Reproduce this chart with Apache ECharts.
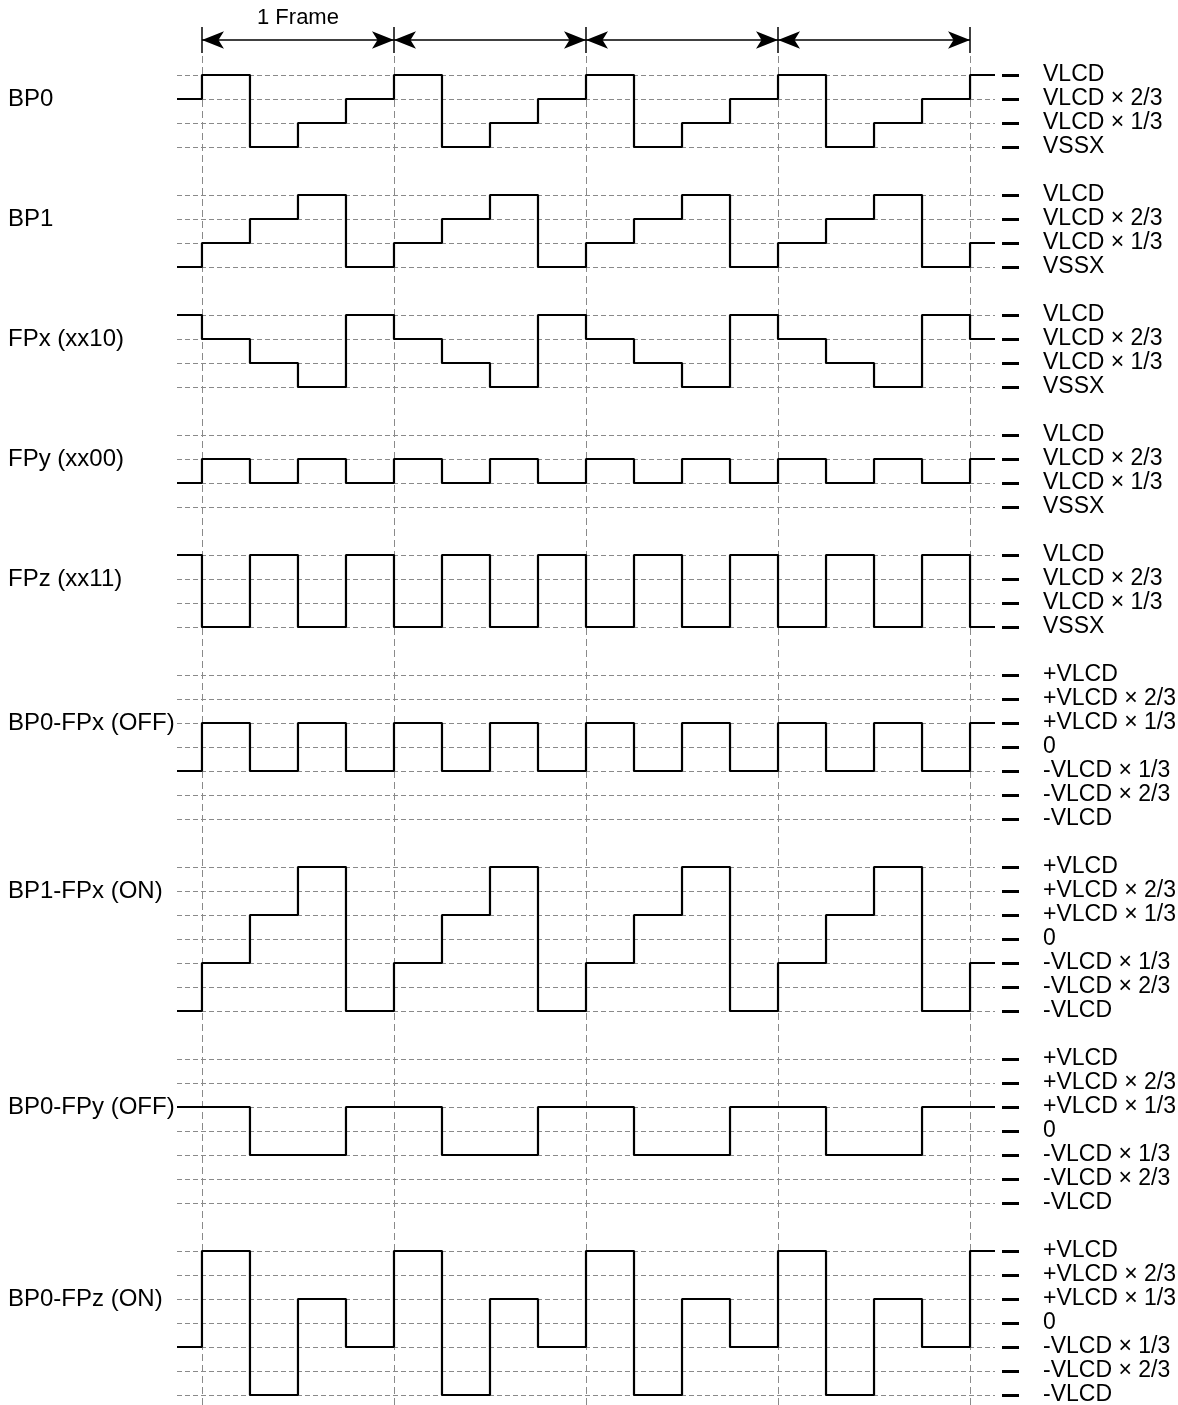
<!DOCTYPE html>
<html><head><meta charset="utf-8">
<script src="https://cdn.jsdelivr.net/npm/echarts@6/dist/echarts.min.js"></script>
<style>html,body{margin:0;padding:0;background:#fff}#c{width:1178px;height:1405px}</style>
</head><body><div id="c"></div>
<script>
// ---- data ----
const frameBounds = [0, 4, 8, 12, 16];          // phase index of frame boundaries
const frameLabel = '1 Frame';
const waveNames = ['BP0', 'BP1', 'FPx (xx10)', 'FPy (xx00)', 'FPz (xx11)',
  'BP0-FPx (OFF)', 'BP1-FPx (ON)', 'BP0-FPy (OFF)', 'BP0-FPz (ON)'];
// levels in units of VLCD/3 : [before, 16 phases ..., after]
const bp0    = [2, 3, 0, 1, 2, 3, 0, 1, 2, 3, 0, 1, 2, 3, 0, 1, 2, 3];
const bp1    = [0, 1, 2, 3, 0, 1, 2, 3, 0, 1, 2, 3, 0, 1, 2, 3, 0, 1];
const fpx    = [3, 2, 1, 0, 3, 2, 1, 0, 3, 2, 1, 0, 3, 2, 1, 0, 3, 2];
const fpy    = [1, 2, 1, 2, 1, 2, 1, 2, 1, 2, 1, 2, 1, 2, 1, 2, 1, 2];
const fpz    = [3, 0, 3, 0, 3, 0, 3, 0, 3, 0, 3, 0, 3, 0, 3, 0, 3, 0];
const bp0fpx = [-1, 1, -1, 1, -1, 1, -1, 1, -1, 1, -1, 1, -1, 1, -1, 1, -1, 1];
const bp1fpx = [-3, -1, 1, 3, -3, -1, 1, 3, -3, -1, 1, 3, -3, -1, 1, 3, -3, -1];
const bp0fpy = [1, 1, -1, -1, 1, 1, -1, -1, 1, 1, -1, -1, 1, 1, -1, -1, 1, 1];
const bp0fpz = [-1, 3, -3, 1, -1, 3, -3, 1, -1, 3, -3, 1, -1, 3, -3, 1, -1, 3];
const waves = [bp0, bp1, fpx, fpy, fpz, bp0fpx, bp1fpx, bp0fpy, bp0fpz];
const nameLevels = [2, 2, 2, 2, 2, 1, 2, 1, 1];
const unipolarLabels = {3: 'VLCD', 2: 'VLCD \u00d7 2/3', 1: 'VLCD \u00d7 1/3', 0: 'VSSX'};
const bipolarLabels = {3: '+VLCD', 2: '+VLCD \u00d7 2/3', 1: '+VLCD \u00d7 1/3', 0: '0',
  '-1': '-VLCD \u00d7 1/3', '-2': '-VLCD \u00d7 2/3', '-3': '-VLCD'};

// ---- layout ----
const XMIN = -0.52, XMAX = 16.52;
const GL = 177, GW = 818;
const STEP = 24;
const panelTops = [75, 195, 315, 435, 555, 675, 867, 1059, 1251];
const FONT = 'Liberation Sans, Arial, Helvetica, sans-serif';
const dashColor = '#8a8a8a';

const grids = [], xAxes = [], yAxes = [], series = [];

function addXAxis(gi) {
  xAxes.push({type: 'value', gridIndex: gi, min: XMIN, max: XMAX, show: false});
  return xAxes.length - 1;
}

// background grid: vertical dashed frame lines
grids.push({left: GL, width: GW, top: 53, bottom: 0, outerBoundsMode: 'none'});
let xi = addXAxis(0);
yAxes.push({type: 'value', gridIndex: 0, min: 0, max: 1, show: false});
series.push({
  type: 'line', xAxisIndex: xi, yAxisIndex: yAxes.length - 1, data: [], silent: true,
  markLine: {
    silent: true, symbol: 'none', animation: false,
    label: {show: false},
    lineStyle: {color: dashColor, width: 1, type: [7, 4]},
    emphasis: {disabled: true},
    data: frameBounds.map(v => ({xAxis: v}))
  }
});

// top grid: frame ticks + arrows
grids.push({left: GL, width: GW, top: 27, height: 26, outerBoundsMode: 'none'});
xi = addXAxis(1);
yAxes.push({type: 'value', gridIndex: 1, min: 0, max: 1, show: false});
const topY = yAxes.length - 1;
series.push({
  type: 'line', xAxisIndex: xi, yAxisIndex: topY, data: [], silent: true,
  markLine: {
    silent: true, symbol: 'none', animation: false, label: {show: false},
    lineStyle: {color: '#000', width: 1.5, type: 'solid'},
    emphasis: {disabled: true},
    data: frameBounds.map(v => ({xAxis: v}))
  }
});
const arrowData = [];
for (let i = 0; i < frameBounds.length - 1; i++) {
  arrowData.push([
    {coord: [frameBounds[i], 0.5],
     label: i === 0 ? {show: true, formatter: frameLabel, position: 'middle', distance: 11,
       fontSize: 22, color: '#000', fontFamily: FONT} : {show: false}},
    {coord: [frameBounds[i + 1], 0.5]}
  ]);
}
series.push({
  type: 'line', xAxisIndex: xi, yAxisIndex: topY, data: [], silent: true,
  markLine: {
    silent: true, animation: false,
    symbol: ['arrow', 'arrow'], symbolSize: [13, 22],
    lineStyle: {color: '#000', width: 1.5, type: 'solid'},
    itemStyle: {color: '#000'},
    label: {show: false},
    emphasis: {disabled: true},
    data: arrowData
  }
});

// waveform panels
waves.forEach((w, k) => {
  const bip = w.some(v => v < 0);
  const ymin = bip ? -3 : 0, ymax = 3;
  const gi = grids.length;
  grids.push({left: GL, width: GW, top: panelTops[k], height: (ymax - ymin) * STEP, outerBoundsMode: 'none'});
  const xa = addXAxis(gi);
  const labels = bip ? bipolarLabels : unipolarLabels;
  // right axis with level names
  yAxes.push({
    type: 'value', gridIndex: gi, position: 'right', offset: 7, min: ymin, max: ymax, interval: 1,
    axisLine: {show: false, onZero: false},
    axisTick: {show: true, length: 17, lineStyle: {color: '#000', width: 3}},
    axisLabel: {show: true, margin: 41, color: '#000', fontSize: 23, fontFamily: FONT, align: 'left',
      formatter: v => labels[String(v)] ?? ''},
    splitLine: {show: true, lineStyle: {color: dashColor, width: 1, type: [5, 3]}}
  });
  const ya = yAxes.length - 1;
  // left axis with waveform name
  yAxes.push({
    type: 'value', gridIndex: gi, position: 'left', min: ymin, max: ymax, interval: 1,
    axisLine: {show: false, onZero: false}, axisTick: {show: false}, splitLine: {show: false},
    axisLabel: {show: true, margin: GL - 8, align: 'left', color: '#000', fontSize: 24, fontFamily: FONT,
      formatter: v => (v === nameLevels[k] ? waveNames[k] : '')}
  });
  const pts = [[XMIN, w[0]]];
  for (let i = 1; i < w.length; i++) pts.push([i - 1, w[i]]);
  pts.push([XMAX, w[w.length - 1]]);
  series.push({
    type: 'line', xAxisIndex: xa, yAxisIndex: ya, data: pts, step: 'end', symbol: 'none',
    silent: true, animation: false, z: 5,
    lineStyle: {color: '#000', width: 2.2}
  });
});

const chart = echarts.init(document.getElementById('c'), null, {renderer: 'canvas'});
chart.setOption({
  animation: false,
  backgroundColor: '#fff',
  grid: grids, xAxis: xAxes, yAxis: yAxes, series: series
});
</script></body></html>
